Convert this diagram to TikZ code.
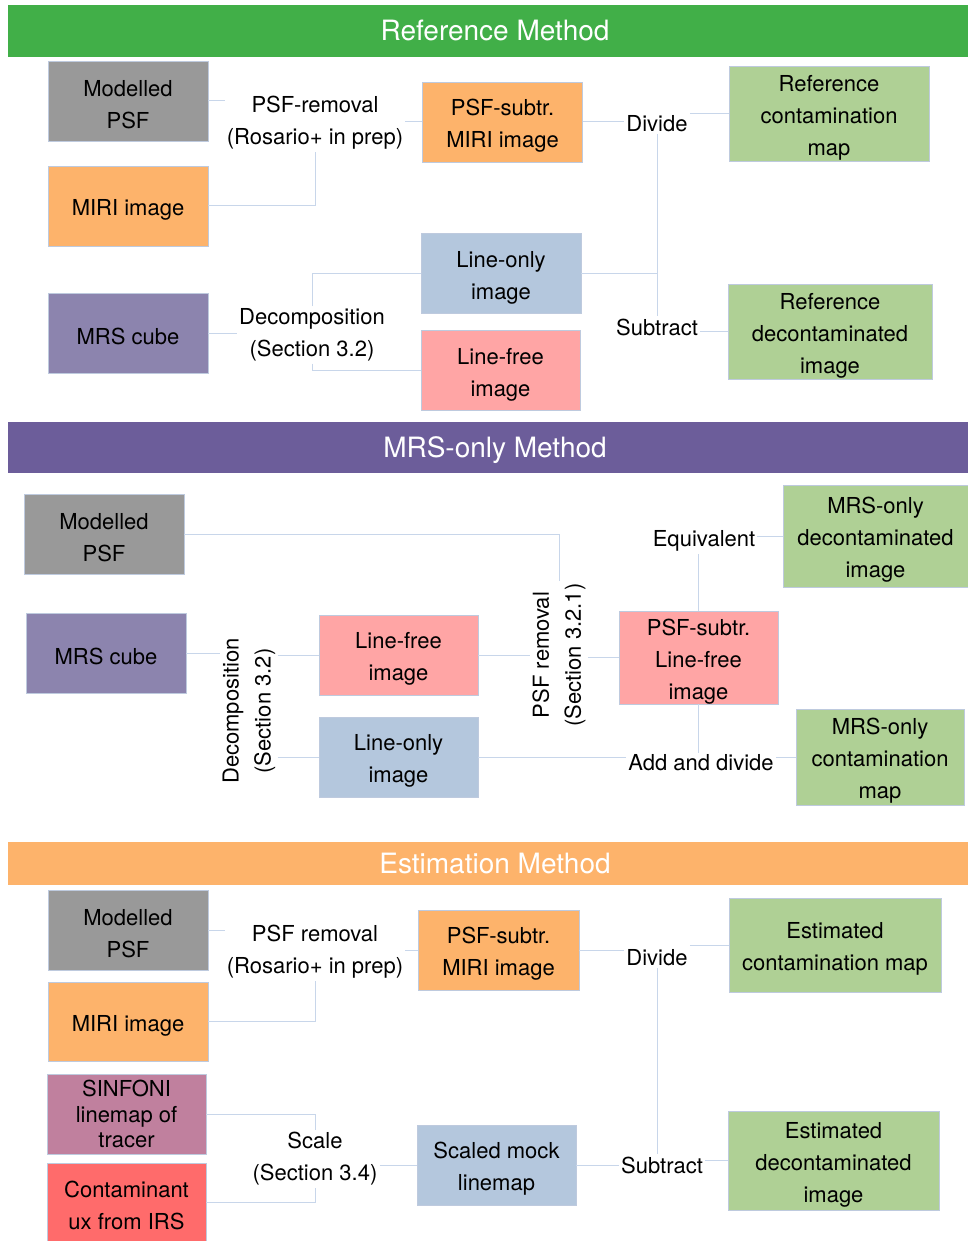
\documentclass[tikz,border=0pt]{standalone}
\usepackage{fontspec}
\setmainfont{TeX Gyre Heros}
\usetikzlibrary{calc,positioning}

\definecolor{barGreen}{RGB}{65,175,72}
\definecolor{barPurple}{RGB}{108,93,154}
\definecolor{miriOrange}{RGB}{253,179,107}
\definecolor{psfGrey}{RGB}{153,153,153}
\definecolor{cubePurple}{RGB}{140,132,174}
\definecolor{onlyBlue}{RGB}{180,199,221}
\definecolor{freePink}{RGB}{255,165,165}
\definecolor{resGreen}{RGB}{175,208,149}
\definecolor{tracerMauve}{RGB}{192,128,158}
\definecolor{irsRed}{RGB}{255,107,107}
\definecolor{linkBlue}{RGB}{200,214,234}
\definecolor{boxLine}{RGB}{190,202,222}

% extra room above the first line of a box
\newcommand{\topGap}{\rule{0pt}{24pt}}

\begin{document}
\begin{tikzpicture}[x=1pt,y=-1pt,
	box/.style={draw=boxLine, line width=0.8pt, inner sep=0pt, align=center, minimum width=160, minimum height=80, font=\fontsize{22}{32}\selectfont},
	lbl/.style={inner sep=2pt, align=center, font=\fontsize{22}{32}\selectfont},
	bar/.style={inner sep=0pt, minimum width=974, text=white, text height=20pt, text depth=0pt, font=\fontsize{28}{34}\selectfont},
	link/.style={draw=linkBlue, line width=1pt}]

	\useasboundingbox (0,0) rectangle (968,1241);

	%Headers
	\foreach \barName/\yCenter/\barHeight/\barColour/\barText in {barRef/31/52/barGreen/Reference Method, barMRS/447.5/51/barPurple/MRS-only Method, barEst/863.5/43/miriOrange/Estimation Method}{
		\node[bar, fill=\barColour, minimum height=\barHeight pt] (\barName) at (495,\yCenter) {\barText};
	}

	%Reference method
	\node[box, fill=psfGrey] (psfA) at (128,101) {\topGap Modelled\\PSF};
	\node[box, fill=miriOrange] (miriA) at (128,206) {\topGap MIRI image};
	\node[box, fill=cubePurple] (cubeA) at (128,333) {\topGap MRS cube};
	\node[box, fill=miriOrange] (subtrA) at (502.5,122) {\topGap PSF-subtr.\\MIRI image};
	\node[box, fill=onlyBlue] (lineOnlyA) at (501,273.5) {\topGap Line-only\\image};
	\node[box, fill=freePink, minimum width=159] (lineFreeA) at (500.5,370.5) {\topGap Line-free\\image};
	\node[box, fill=resGreen, minimum width=200, minimum height=95] (contamA) at (829,113.5) {\topGap Reference\\contamination\\map};
	\node[box, fill=resGreen, minimum width=204, minimum height=95] (decontA) at (830,331.5) {\topGap Reference\\decontaminated\\image};

	\node[lbl] (removalA) at (315,123) {PSF-removal\\(Rosario+ in prep)};
	\node[lbl] (decompA) at (312,335) {Decomposition\\(Section 3.2)};
	\node[lbl] (divideA) at (657,124) {Divide};
	\node[lbl] (subtractA) at (657,327) {Subtract};

	\draw[link] (psfA.east) -- (psfA.east -| removalA.west);
	\draw[link] (miriA.east) -| (removalA.south);
	\draw[link] (subtrA.west -| removalA.east) -- (subtrA.west);
	\draw[link] (subtrA.east) -- (subtrA.east -| divideA.west);
	\draw[link] (contamA.west -| divideA.east) -- (contamA.west);
	\draw[link] (divideA.south) -- (subtractA.north);
	\draw[link] (lineOnlyA.east) -- (lineOnlyA.east -| divideA.south);
	\draw[link] (decontA.west -| subtractA.east) -- (decontA.west);
	\draw[link] (cubeA.east) -- (cubeA.east -| decompA.west);
	\draw[link] (decompA.north) |- (lineOnlyA.west);
	\draw[link] (decompA.south) |- (lineFreeA.west);

	%MRS-only method
	\node[box, fill=psfGrey] (psfB) at (104,534) {\topGap Modelled\\PSF};
	\node[box, fill=cubePurple] (cubeB) at (106,653) {\topGap MRS cube};
	\node[box, fill=freePink, minimum width=159] (lineFreeB) at (398.5,655) {\topGap Line-free\\image};
	\node[box, fill=onlyBlue, minimum width=159] (lineOnlyB) at (398.5,757) {\topGap Line-only\\image};
	\node[box, fill=freePink, minimum width=159, minimum height=93] (subtrB) at (698.5,657.5) {\topGap PSF-subtr.\\Line-free\\image};
	\node[box, fill=resGreen, minimum width=185, minimum height=102] (decontB) at (875.5,536) {\topGap MRS-only\\decontaminated\\image};
	\node[box, fill=resGreen, minimum width=168, minimum height=96] (contamB) at (880,757) {\topGap MRS-only\\contamination\\map};

	\node[lbl, rotate=90] (decompB) at (249,711) {Decomposition\\(Section 3.2)};
	\node[lbl, rotate=90] (removalB) at (559,655) {PSF removal\\(Section 3.2.1)};
	\node[lbl] (equivB) at (704,541) {Equivalent};
	\node[lbl] (addB) at (701,763) {Add and divide};

	\draw[link] (cubeB.east) -- (cubeB.east -| decompB.north);
	\draw[link] (lineFreeB.west -| decompB.south) -- (lineFreeB.west);
	\draw[link] (lineOnlyB.west -| decompB.south) -- (lineOnlyB.west);
	\draw[link] (psfB.east) -| (removalB.east);
	\draw[link] (lineFreeB.east) -- (lineFreeB.east -| removalB.north);
	\draw[link] (subtrB.west -| removalB.south) -- (subtrB.west);
	\draw[link] (subtrB.north) -- (subtrB.north |- equivB.south);
	\draw[link] (subtrB.south) -- (subtrB.south |- addB.north);
	\draw[link] (lineOnlyB.east) -- (lineOnlyB.east -| addB.west);
	\draw[link] (decontB.west -| equivB.east) -- (decontB.west);
	\draw[link] (contamB.west -| addB.east) -- (contamB.west);

	%Estimation method
	\node[box, fill=psfGrey] (psfC) at (128,930) {\topGap Modelled\\PSF};
	\node[box, fill=miriOrange, minimum height=79] (miriC) at (128,1021.5) {\topGap MIRI image};
	\node[box, fill=tracerMauve, minimum width=159, font=\fontsize{22}{25.5}\selectfont] (tracerC) at (126.5,1114) {SINFONI\\linemap of\\tracer};
	\node[box, fill=irsRed, minimum width=159, minimum height=78] (irsC) at (126.5,1202) {\topGap Contaminant\\ux from IRS};
	\node[box, fill=miriOrange, minimum width=161] (subtrC) at (498.5,950) {\topGap PSF-subtr.\\MIRI image};
	\node[box, fill=onlyBlue, minimum width=159] (mockC) at (496.5,1165) {\topGap Scaled mock\\linemap};
	\node[box, fill=resGreen, minimum width=212, minimum height=94] (contamC) at (835,945) {\topGap Estimated\\contamination map};
	\node[box, fill=resGreen, minimum width=211, minimum height=99] (decontC) at (833.5,1160.5) {\topGap Estimated\\decontaminated\\image};

	\node[lbl] (removalC) at (315,952) {PSF removal\\(Rosario+ in prep)};
	\node[lbl] (scaleC) at (315,1159) {Scale\\(Section 3.4)};
	\node[lbl] (divideC) at (657,958) {Divide};
	\node[lbl] (subtractC) at (662,1165) {Subtract};

	\draw[link] (psfC.east) -- (psfC.east -| removalC.west);
	\draw[link] (miriC.east) -| (removalC.south);
	\draw[link] (subtrC.west -| removalC.east) -- (subtrC.west);
	\draw[link] (subtrC.east) -- (subtrC.east -| divideC.west);
	\draw[link] (contamC.west -| divideC.east) -- (contamC.west);
	\draw[link] (divideC.south) -- (divideC.south |- subtractC.north);
	\draw[link] (tracerC.east) -| (scaleC.north);
	\draw[link] (irsC.east) -| (scaleC.south);
	\draw[link] (mockC.west -| scaleC.east) -- (mockC.west);
	\draw[link] (mockC.east) -- (mockC.east -| subtractC.west);
	\draw[link] (decontC.west -| subtractC.east) -- (decontC.west);

\end{tikzpicture}
\end{document}
